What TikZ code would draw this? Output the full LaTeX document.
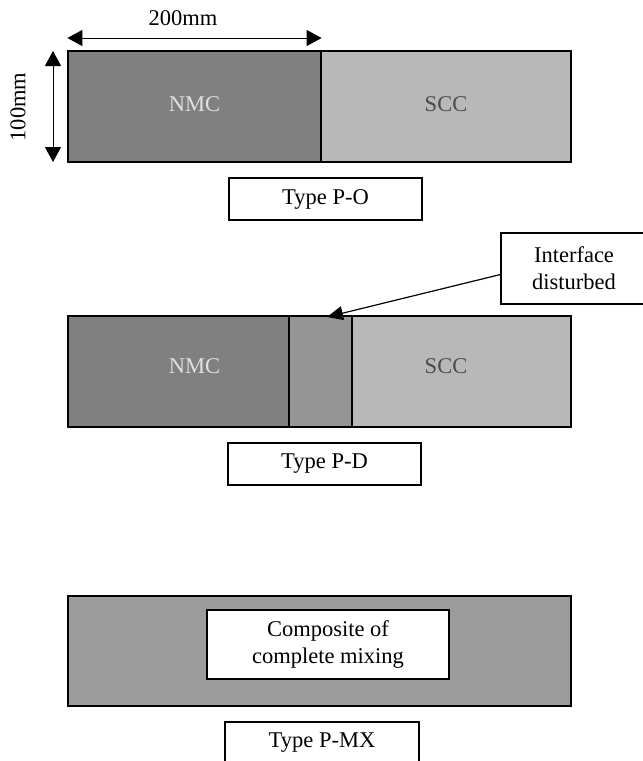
\documentclass[tikz,border=0pt]{standalone}
\usepackage{fontspec}
\setmainfont{Liberation Serif}
\usetikzlibrary{arrows.meta}

\definecolor{nmcgray}{HTML}{808080}
\definecolor{sccgray}{HTML}{B8B8B8}
\definecolor{mixgray}{HTML}{959595}
\definecolor{pmxgray}{HTML}{9C9C9C}

\begin{document}
\begin{tikzpicture}[x=1pt,y=-1pt,
  font=\fontsize{22.5}{27}\selectfont,
  block/.style={draw=black, line width=1.2pt, inner sep=0pt, minimum height=111pt},
  tag/.style={draw=black, line width=1.1pt, fill=white, inner sep=0pt, align=center},
  dimarrow/.style={line width=1pt, {Triangle[length=15pt,width=16pt]}-{Triangle[length=15pt,width=16pt]}},
  callout/.style={line width=1.2pt, -{Triangle[length=16pt,width=14pt]}}]

\useasboundingbox (0,0) rectangle (643,761);
\clip (0,0) rectangle (643,761);

% Type P-O
\node[block, fill=nmcgray, minimum width=253pt] (nmcO) at (194.5,106.5) {};
\node[block, fill=sccgray, minimum width=250pt] (sccO) at (446,106.5) {};
\node[text=black!12] (nmcOtext) at (194.5,104) {NMC};
\node[text=black!70] (sccOtext) at (446,104) {SCC};
\node[tag, minimum width=193pt, minimum height=42pt] (typeO) at (325.5,199) {Type P-O};

\draw[dimarrow] (nmcO.north west |- 0,38) -- (nmcO.north east |- 0,38);
\node (width) at (183,18) {200mm};
\draw[dimarrow] (53,51) -- (53,162);
\node[rotate=90] (height) at (18,107) {100mm};

% Type P-D
\node[block, fill=nmcgray, minimum width=221pt] (nmcD) at (178.5,371.5) {};
\node[block, fill=mixgray, minimum width=63pt] (mixD) at (320.5,371.5) {};
\node[block, fill=sccgray, minimum width=219pt] (sccD) at (461.5,371.5) {};
\node[text=black!12] (nmcDtext) at (194.5,366) {NMC};
\node[text=black!70] (sccDtext) at (446,366) {SCC};
\node[tag, minimum width=193pt, minimum height=42pt] (typeD) at (324.5,464) {Type P-D};

\node[tag, minimum width=146pt, minimum height=71pt] (iface) at (574,268.5) {Interface\\disturbed};
\coordinate (ifacetip) at (327,317);
\draw[callout] ([yshift=-6pt]iface.west) -- (ifacetip);

% Type P-MX
\node[block, fill=pmxgray, minimum width=503pt, minimum height=110pt] (pmx) at (319.5,651) {};
\node[tag, minimum width=242pt, minimum height=69pt] (mixing) at (328,644.5) {Composite of\\complete mixing};
\node[tag, minimum width=194pt, minimum height=42pt] (typeMX) at (322,743) {Type P-MX};

\end{tikzpicture}
\end{document}
